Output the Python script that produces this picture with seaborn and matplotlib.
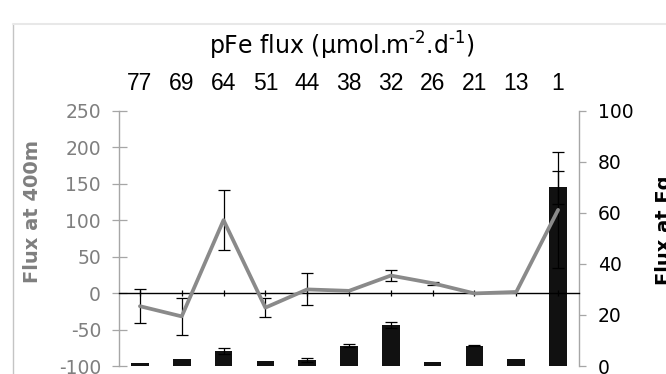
import matplotlib
matplotlib.use("Agg")
import matplotlib.pyplot as plt
import seaborn as sns
import numpy as np
import pandas as pd
from matplotlib.lines import Line2D

# ---- data ----
categories = ["77", "69", "64", "51", "44", "38", "32", "26", "21", "13", "1"]
flux400 = [-18, -32, 100, -20, 5, 3, 24, 13.5, -0.5, 1.5, 114]
flux400_err = [23.5, 25, 41, 13, 22, 0, 8, 2, 0, 0, 80]
flux_eq = [1.3, 2.9, 5.9, 2.0, 2.4, 7.9, 16.1, 1.4, 7.9, 2.8, 70]
flux_eq_err = [0, 0, 1.3, 0, 0.9, 0.6, 1.3, 0, 0.2, 0, 6.5]
left_ticks = [-100, -50, 0, 50, 100, 150, 200, 250]
right_ticks = [0, 20, 40, 60, 80, 100]

sns.set_theme(style="white")
plt.rcParams["font.family"] = ["DejaVu Sans"]
plt.rcParams["mathtext.default"] = "regular"
plt.rcParams["axes.unicode_minus"] = False

GRAY_TXT = "#7f7f7f"
GRAY_AX = "#a6a6a6"
LINE_GRAY = "#8a8a8a"

fig = plt.figure(figsize=(6.66, 3.74), dpi=100)
fig.patch.set_facecolor("white")
ax = fig.add_axes([119 / 666, 8 / 374, 460 / 666, 255.3 / 374])
ax2 = ax.twinx()

df = pd.DataFrame({"cat": categories, "x": np.arange(len(categories)),
                   "f400": flux400, "f400e": flux400_err,
                   "feq": flux_eq, "feqe": flux_eq_err})

# bars (right axis)
sns.barplot(data=df, x="cat", y="feq", order=categories, ax=ax2,
            color="#111111", saturation=1, width=0.42, errorbar=None,
            edgecolor="#111111", linewidth=0)
m = df["feqe"] > 0
ax2.errorbar(df.loc[m, "x"], df.loc[m, "feq"], yerr=df.loc[m, "feqe"], fmt="none",
             ecolor="black", elinewidth=0.9, capsize=4.3, capthick=0.9, zorder=5)

# line (left axis)
m2 = df["f400e"] > 0
ax.errorbar(df.loc[m2, "x"], df.loc[m2, "f400"], yerr=df.loc[m2, "f400e"], fmt="none",
            ecolor="black", elinewidth=0.9, capsize=4.3, capthick=0.9, zorder=2)
sns.lineplot(data=df, x="x", y="f400", ax=ax, color=LINE_GRAY, linewidth=2.7,
             zorder=3, sort=False)

ax.set_zorder(ax2.get_zorder() + 1)
ax.patch.set_visible(False)

ax.set_xlim(-0.5, 10.5)
ax2.set_xlim(-0.5, 10.5)
ax.set_ylim(-100, 250)
ax.set_yticks(left_ticks)
ax2.set_ylim(0, 100)
ax2.set_yticks(right_ticks)

# spines
for s in ["top", "right"]:
    ax.spines[s].set_visible(False)
ax.spines["left"].set_color(GRAY_AX)
ax.spines["left"].set_linewidth(1.0)
ax.spines["bottom"].set_position(("data", 0))
ax.spines["bottom"].set_color("black")
ax.spines["bottom"].set_linewidth(1.0)
for s in ["top", "left", "bottom"]:
    ax2.spines[s].set_visible(False)
ax2.spines["right"].set_color(GRAY_AX)
ax2.spines["right"].set_linewidth(1.0)

# ticks
ax.set_xticks(np.arange(len(categories)))
ax.set_xticklabels(categories, fontfamily="Liberation Sans", fontsize=16.5)
ax.tick_params(axis="x", direction="inout", length=5, width=0.9, color="black",
               bottom=True, top=False, labelbottom=False, labeltop=True,
               labelcolor="black", pad=9)
ax.tick_params(axis="y", direction="inout", length=10.8, width=0.9, color=GRAY_AX,
               labelcolor=GRAY_TXT, labelsize=13.5, pad=7.5, left=True)
ax2.tick_params(axis="y", direction="out", length=5.2, width=0.9, color=GRAY_AX,
                labelcolor="black", labelsize=13.5, pad=8.5, right=True)
ax.set_xlabel("")
ax2.set_xlabel("")

# axis labels
ax.set_ylabel("Flux at 400m", fontsize=14, fontweight="bold", color=GRAY_TXT)
ax.yaxis.label.set_va("center")
ax.yaxis.set_label_coords(-0.189, 0.607)
ax2.set_ylabel("Flux at Eq", fontsize=14, fontweight="bold", color="black",
               rotation=90)
ax2.yaxis.label.set_va("center")
ax2.yaxis.set_label_coords(1.186, 0.53)

# top title
fig.text(341.7 / 666, 1 - 54.3 / 374, "pFe flux (µmol.m$^{\u20102}$.d$^{\u20101}$)",
         ha="center", va="baseline", fontsize=17, color="black")

# chart border
fig.add_artist(Line2D([13 / 666, 13 / 666], [0, 1 - 24 / 374], color="#c4c4c4",
                      lw=1.0, transform=fig.transFigure))
fig.add_artist(Line2D([13 / 666, 1], [1 - 24 / 374, 1 - 24 / 374], color="#e8e8e8",
                      lw=1.5, transform=fig.transFigure))

fig.savefig("out.png", dpi=100)
